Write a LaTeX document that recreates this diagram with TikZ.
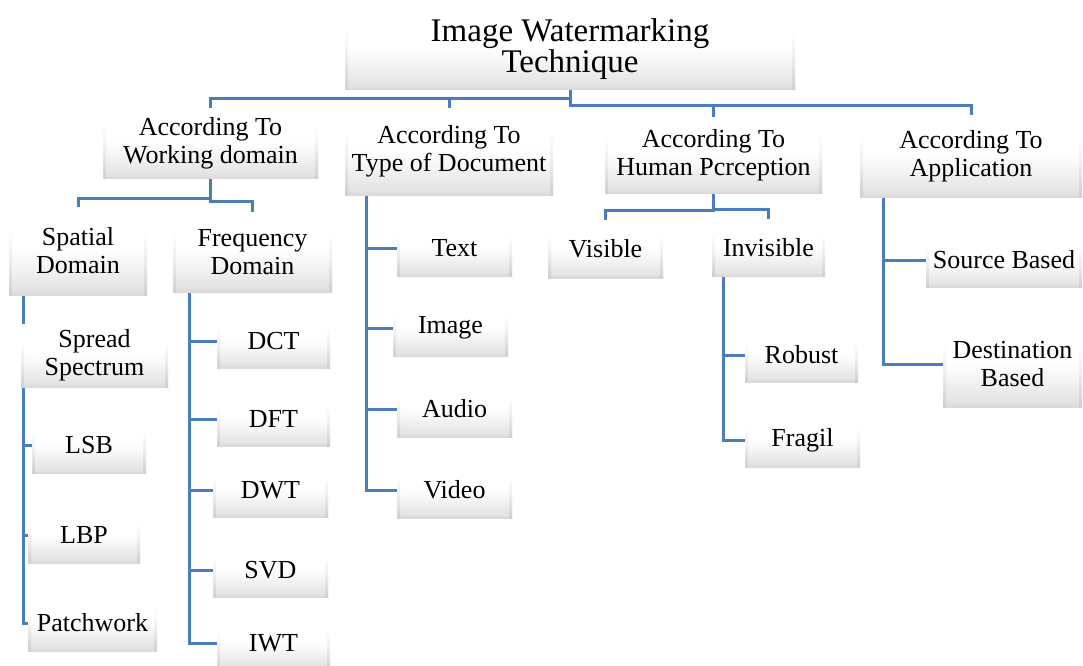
\documentclass[tikz,border=0pt]{standalone}
\usepackage{fontspec}
\setmainfont{Liberation Serif}
\usetikzlibrary{backgrounds}
\definecolor{linkblue}{HTML}{4A7EBB}
\newcommand\boxfont{\fontsize{26}{28}\selectfont}
\newcommand\topfont{\fontsize{33}{31}\selectfont}
% box face: white in the upper part, grey towards the lower edge
\pgfdeclareverticalshading{bevelface}{100bp}{%
  color(0bp)=(black!15); color(25bp)=(black!15); color(28bp)=(black!11);
  color(44bp)=(black!3); color(52bp)=(white); color(100bp)=(white)}
% box side edges
\pgfdeclareverticalshading{bevelside}{100bp}{%
  color(0bp)=(black!19); color(25bp)=(black!19); color(45bp)=(black!7);
  color(62bp)=(white); color(100bp)=(white)}
\tikzset{
  bevel/.style 2 args={
    rectangle, inner sep=0pt, align=center, font=\boxfont, fill=white,
    minimum width=#1, minimum height=#2,
    path picture={
      \shade[shading=bevelface]
        (path picture bounding box.north west) rectangle (path picture bounding box.south east);
      \shade[shading=bevelside]
        (path picture bounding box.north west) rectangle ([xshift=3pt]path picture bounding box.south west);
      \shade[shading=bevelside]
        ([xshift=-3pt]path picture bounding box.north east) rectangle (path picture bounding box.south east);
    }
  },
  conn/.style={draw=linkblue, line width=3pt}
}
\begin{document}
\begin{tikzpicture}[x=1pt, y=-1pt]
\useasboundingbox (0,0) rectangle (1083,665);

% root and first level
\node[bevel={450pt}{81pt}, font=\topfont] (root) at (570,49) {Image Watermarking\\Technique};
\node[bevel={215pt}{70pt}] (W) at (210.5,143) {According To\\Working domain};
\node[bevel={208pt}{87pt}] (T) at (449,151.5) {According To\\Type of Document};
\node[bevel={217pt}{76pt}] (H) at (713.5,155) {According To\\Human Pcrception};
\node[bevel={222pt}{82pt}] (A) at (971,156) {According To\\Application};

% second level
\node[bevel={138pt}{88pt}] (sp) at (78,251) {Spatial\\Domain};
\node[bevel={159pt}{80pt}] (fr) at (252.5,252) {Frequency\\Domain};
\node[bevel={115pt}{58pt}] (vis) at (605.5,249) {Visible};
\node[bevel={113pt}{57pt}] (inv) at (768.5,247.5) {Invisible};

% spatial domain methods
\node[bevel={147pt}{63pt}] (ss) at (94.5,355.5) {Spread\\Spectrum};
\node[bevel={114pt}{56pt}] (lsb) at (89,445) {LSB};
\node[bevel={112pt}{56pt}] (lbp) at (84,535) {LBP};
\node[bevel={129pt}{56pt}] (pw) at (92.5,623) {Patchwork};

% frequency domain methods
\node[bevel={113pt}{54pt}] (dct) at (273.5,341) {DCT};
\node[bevel={113pt}{54pt}] (dft) at (273.5,419) {DFT};
\node[bevel={115pt}{54pt}] (dwt) at (270.5,490) {DWT};
\node[bevel={115pt}{54pt}] (svd) at (270.5,570) {SVD};
\node[bevel={113pt}{54pt}] (iwt) at (273.5,643) {IWT};

% document types
\node[bevel={115pt}{56pt}] (txt) at (454.5,248) {Text};
\node[bevel={115pt}{56pt}] (img) at (450.5,328) {Image};
\node[bevel={115pt}{56pt}] (aud) at (454.5,409) {Audio};
\node[bevel={115pt}{56pt}] (vid) at (454.5,490) {Video};

% invisible watermark kinds
\node[bevel={113pt}{54pt}] (rob) at (801.5,355) {Robust};
\node[bevel={115pt}{54pt}] (fra) at (802.5,440) {Fragil};

% application kinds
\node[bevel={156pt}{54pt}] (src) at (1004,260) {Source Based};
\node[bevel={139pt}{86pt}] (dst) at (1012.5,364) {Destination\\Based};

% vertical rails of the leaf lists
\coordinate (spx) at (23,0);
\coordinate (frx) at (189,0);
\coordinate (tx) at (366,0);
\coordinate (invx) at (723,0);
\coordinate (ax) at (883,0);

\begin{scope}[on background layer]
  % root to first level
  \draw[conn] (root.south) -- ++(0,9) -| (W.north);
  \draw[conn] (root.south) -- ++(0,9) -| (T.north);
  \draw[conn] (root.south) -- ++(0,16) -| (H.north);
  \draw[conn] (root.south) -- ++(0,16) -| (A.north);
  % working domain split
  \draw[conn] (W.south) -- ++(0,20) -| (sp.north);
  \draw[conn] (W.south) -- ++(0,23) -| (fr.north);
  % perception split
  \draw[conn] (H.south) -- ++(0,17) -| (vis.north);
  \draw[conn] (H.south) -- ++(0,16) -| (inv.north);
  % spatial list
  \foreach \n in {ss,lsb,lbp,pw} \draw[conn] (sp.south -| spx) |- (\n.west);
  % frequency list
  \foreach \n in {dct,dft,dwt,svd,iwt} \draw[conn] (fr.south -| frx) |- (\n.west);
  % document list
  \foreach \n in {txt,img,aud,vid} \draw[conn] (T.south -| tx) |- (\n.west);
  % invisible list
  \foreach \n in {rob,fra} \draw[conn] (inv.south -| invx) |- (\n.west);
  % application list
  \foreach \n in {src,dst} \draw[conn] (A.south -| ax) |- (\n.west);
\end{scope}
\end{tikzpicture}
\end{document}
